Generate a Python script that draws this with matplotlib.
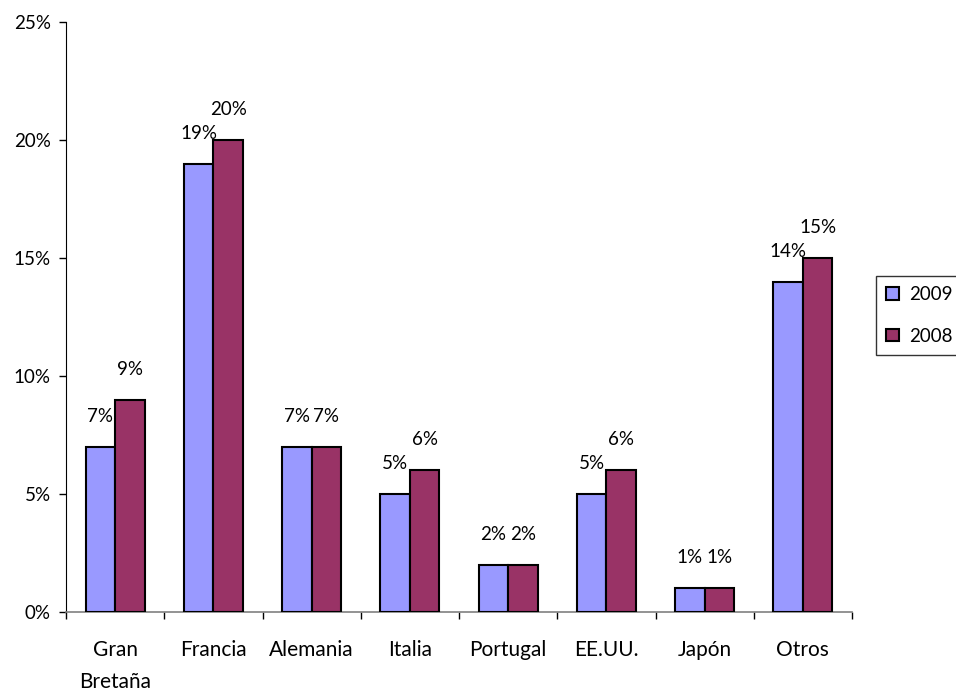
import matplotlib
matplotlib.use("Agg")
import matplotlib.pyplot as plt
import numpy as np
from matplotlib.ticker import FuncFormatter, FixedLocator

plt.rcParams['font.family'] = ['Lato', 'DejaVu Sans']

paises = ["Gran\nBretaña", "Francia", "Alemania", "Italia", "Portugal", "EE.UU.", "Japón", "Otros"]
v2009 = [7, 19, 7, 5, 2, 5, 1, 14]
v2008 = [9, 20, 7, 6, 2, 6, 1, 15]
series = ["2009", "2008"]
colores = ["#9999FF", "#993366"]

num_fs = 13.5
cat_fs = 15

fig = plt.figure(figsize=(9.56, 6.93), dpi=100)
ax = fig.add_axes([66/956, 1-612/693, (852-66)/956, (612-22)/693])

x = np.arange(len(paises))
w = 0.3
b1 = ax.bar(x - w/2, v2009, w, color=colores[0], edgecolor='black', linewidth=1.5, label=series[0], zorder=3)
b2 = ax.bar(x + w/2, v2008, w, color=colores[1], edgecolor='black', linewidth=1.5, label=series[1], zorder=3)

# etiquetas de datos encima de cada barra
for bars, vals in ((b1, v2009), (b2, v2008)):
    for r, v in zip(bars, vals):
        ax.annotate("{}%".format(v), (r.get_x() + r.get_width()/2, v),
                    xytext=(0, 22), textcoords='offset points',
                    ha='center', va='center', fontsize=num_fs)

ax.set_xlim(-0.5, len(paises) - 0.5)
ax.set_ylim(0, 25)
ax.set_yticks([0, 5, 10, 15, 20, 25])
ax.yaxis.set_major_formatter(FuncFormatter(lambda v, p: "{:d}%".format(int(v))))
ax.tick_params(axis='y', direction='out', length=5, width=1, labelsize=num_fs, pad=6)

ax.set_xticks(x)
ax.set_xticklabels(paises, fontsize=cat_fs, linespacing=1.75, va='top')
ax.tick_params(axis='x', which='major', length=0, pad=20)
ax.xaxis.set_minor_locator(FixedLocator(np.arange(len(paises) + 1) - 0.5))
ax.tick_params(axis='x', which='minor', direction='out', length=5, width=1, color='black')

ax.spines['top'].set_visible(False)
ax.spines['right'].set_visible(False)
ax.spines['left'].set_color('black')
ax.spines['bottom'].set_color('#808080')
ax.spines['bottom'].set_linewidth(1.2)

leg = fig.legend(loc='upper left', bbox_to_anchor=(876/956, 1-276/693), fontsize=num_fs,
                 frameon=True, fancybox=False, borderaxespad=0, handlelength=0.65,
                 handleheight=0.65, handletextpad=0.55, labelspacing=1.3, borderpad=0.55)
leg.get_frame().set_edgecolor('black')
leg.get_frame().set_linewidth(1)

fig.savefig("out.png", dpi=100)
